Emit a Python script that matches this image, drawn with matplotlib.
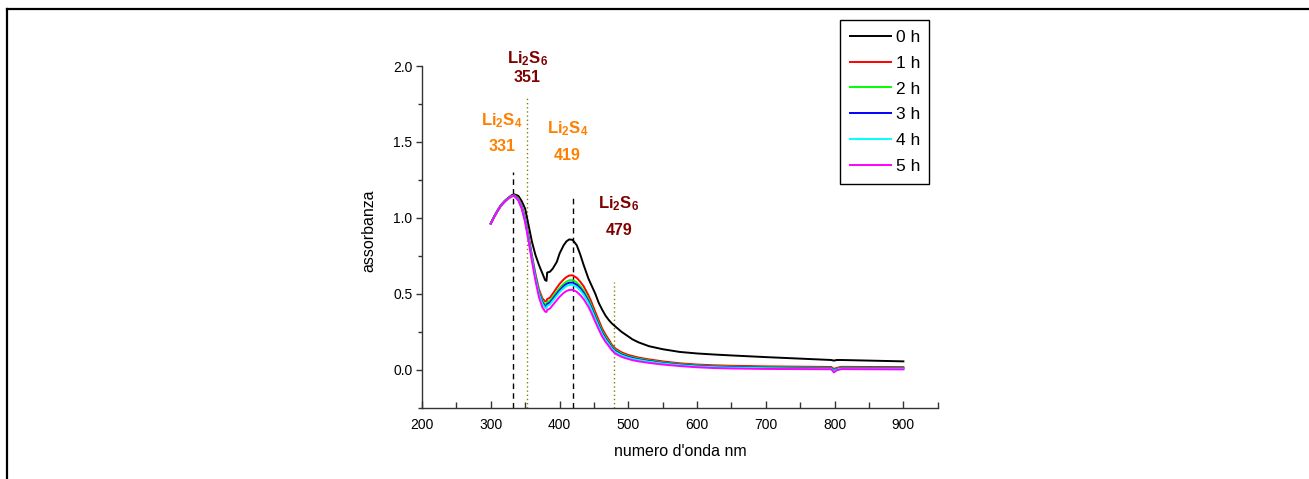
import matplotlib
matplotlib.use("Agg")
import matplotlib.pyplot as plt
from matplotlib.lines import Line2D

plt.rcParams['font.family'] = ['Liberation Sans', 'DejaVu Sans']
plt.rcParams['mathtext.fontset'] = 'custom'
plt.rcParams['mathtext.rm'] = 'Liberation Sans'
plt.rcParams['mathtext.bf'] = 'Liberation Sans:bold'
plt.rcParams['mathtext.it'] = 'Liberation Sans:italic'

# ---------------- data ----------------
wavelength = [300, 305, 310, 315, 320, 325, 330, 334, 340, 345, 350, 355, 360, 365, 370, 375,
              379, 381, 382, 386, 390, 396, 400, 406, 410, 414, 419, 425, 430, 435, 442, 446,
              452, 457, 462, 467, 472, 476, 481, 490, 498, 506, 515, 530, 550, 575, 600, 625,
              650, 700, 750, 795, 799, 803, 810, 850, 900]

abs_0h = [0.965, 1.01, 1.05, 1.085, 1.11, 1.13, 1.148, 1.155, 1.145, 1.11, 1.06, 0.95, 0.84, 0.755,
          0.69, 0.635, 0.59, 0.585, 0.64, 0.645, 0.665, 0.71, 0.765, 0.82, 0.845, 0.858, 0.855,
          0.82, 0.76, 0.69, 0.60, 0.56, 0.50, 0.44, 0.395, 0.355, 0.325, 0.305, 0.285, 0.25,
          0.225, 0.20, 0.18, 0.155, 0.135, 0.117, 0.107, 0.10, 0.094, 0.083, 0.073, 0.064,
          0.060, 0.064, 0.064, 0.060, 0.055]

abs_1h = [0.965, 1.01, 1.05, 1.085, 1.11, 1.13, 1.145, 1.15, 1.13, 1.08, 1.0, 0.88, 0.75, 0.63,
          0.53, 0.47, 0.45, 0.45, 0.465, 0.475, 0.50, 0.54, 0.565, 0.595, 0.61, 0.62, 0.622,
          0.605, 0.58, 0.55, 0.49, 0.45, 0.38, 0.325, 0.27, 0.23, 0.195, 0.165, 0.14, 0.115,
          0.10, 0.09, 0.08, 0.068, 0.055, 0.042, 0.034, 0.029, 0.026, 0.022, 0.020, 0.018,
          0.005, 0.012, 0.019, 0.018, 0.017]

abs_2h = [0.963, 1.008, 1.048, 1.083, 1.108, 1.128, 1.143, 1.148, 1.125, 1.075, 0.99, 0.87, 0.74,
          0.62, 0.515, 0.455, 0.43, 0.43, 0.445, 0.455, 0.478, 0.515, 0.538, 0.566, 0.58, 0.589,
          0.59, 0.575, 0.552, 0.522, 0.465, 0.425, 0.358, 0.305, 0.253, 0.215, 0.182, 0.154,
          0.13, 0.106, 0.092, 0.082, 0.073, 0.061, 0.048, 0.036, 0.028, 0.023, 0.020, 0.016,
          0.014, 0.012, -0.002, 0.006, 0.013, 0.012, 0.011]

abs_3h = [0.962, 1.007, 1.047, 1.082, 1.107, 1.127, 1.142, 1.147, 1.122, 1.07, 0.985, 0.862, 0.732,
          0.61, 0.505, 0.443, 0.418, 0.417, 0.432, 0.442, 0.465, 0.50, 0.523, 0.551, 0.565, 0.573,
          0.574, 0.559, 0.537, 0.507, 0.451, 0.411, 0.345, 0.293, 0.243, 0.205, 0.173, 0.146,
          0.123, 0.10, 0.087, 0.077, 0.068, 0.057, 0.044, 0.033, 0.025, 0.020, 0.017, 0.013,
          0.011, 0.009, -0.005, 0.003, 0.010, 0.009, 0.008]

abs_4h = [0.961, 1.006, 1.046, 1.081, 1.106, 1.126, 1.141, 1.146, 1.12, 1.066, 0.98, 0.855, 0.725,
          0.602, 0.497, 0.433, 0.407, 0.405, 0.42, 0.43, 0.453, 0.487, 0.51, 0.537, 0.551, 0.558,
          0.559, 0.545, 0.523, 0.494, 0.44, 0.40, 0.335, 0.283, 0.234, 0.197, 0.166, 0.14,
          0.117, 0.095, 0.082, 0.072, 0.064, 0.053, 0.041, 0.030, 0.022, 0.017, 0.014, 0.010,
          0.008, 0.007, -0.008, 0.001, 0.008, 0.007, 0.006]

abs_5h = [0.96, 1.005, 1.045, 1.08, 1.105, 1.125, 1.14, 1.145, 1.115, 1.06, 0.97, 0.845, 0.71,
          0.585, 0.478, 0.41, 0.383, 0.38, 0.393, 0.403, 0.425, 0.458, 0.48, 0.506, 0.518, 0.525,
          0.526, 0.513, 0.492, 0.465, 0.414, 0.377, 0.315, 0.265, 0.218, 0.183, 0.153, 0.128,
          0.106, 0.085, 0.073, 0.063, 0.055, 0.045, 0.034, 0.024, 0.016, 0.011, 0.008, 0.005,
          0.004, 0.003, -0.018, -0.004, 0.004, 0.003, 0.002]

series_labels = ['0 h', '1 h', '2 h', '3 h', '4 h', '5 h']
series_values = [abs_0h, abs_1h, abs_2h, abs_3h, abs_4h, abs_5h]
series_colors = ['#000000', '#FF0000', '#00FF00', '#0000FF', '#00FFFF', '#FF00FF']

# reference marker lines: (position, top, style)
marker_pos = [333, 419, 352, 479]
marker_top = [1.30, 1.15, 1.80, 0.58]
marker_style = ['dashed', 'dashed', 'dotted', 'dotted']
marker_color = ['#000000', '#000000', '#808000', '#808000']

# peak annotations
ann_species = [r'$\mathbf{Li_2S_6}$', r'$\mathbf{Li_2S_4}$', r'$\mathbf{Li_2S_4}$', r'$\mathbf{Li_2S_6}$']
ann_values = ['351', '331', '419', '479']
ann_x = [353.5, 316, 411.5, 486.3]
ann_y_species = [2.02, 1.61, 1.556, 1.063]
ann_y_value = [1.893, 1.443, 1.38, 0.888]
ann_colors = ['#800000', '#FF8000', '#FF8000', '#800000']

x_ticks = [200, 300, 400, 500, 600, 700, 800, 900]
y_ticks = [0.0, 0.5, 1.0, 1.5, 2.0]

# ---------------- figure ----------------
fig = plt.figure(figsize=(13.09, 4.79), dpi=100)
ax = fig.add_axes([0.3224, 0.1489, 0.7164 - 0.3224, 0.8622 - 0.1489])

for vals, lab, col in zip(series_values, series_labels, series_colors):
    ax.plot(wavelength, vals, color=col, lw=1.4, label=lab, zorder=3)

for p, t, s, c in zip(marker_pos, marker_top, marker_style, marker_color):
    ls = (0, (4, 3)) if s == 'dashed' else (0, (1, 2))
    ax.plot([p, p], [-0.25, t], color=c, lw=1.0, linestyle=ls, zorder=2, clip_on=False)

for sp, v, x, ys, yv, c in zip(ann_species, ann_values, ann_x, ann_y_species, ann_y_value, ann_colors):
    ax.text(x, ys, sp, color=c, fontsize=12, ha='center', va='baseline', clip_on=False)
    ax.text(x, yv, v, color=c, fontsize=11.5, fontweight='bold', ha='center', va='baseline',
            clip_on=False)

ax.set_xlim(200, 950)
ax.set_ylim(-0.25, 2.0)
ax.set_xticks(x_ticks)
ax.set_xticks([250, 350, 450, 550, 650, 750, 850, 950], minor=True)
ax.set_yticks(y_ticks)
ax.set_yticks([-0.25, 0.25, 0.75, 1.25, 1.75], minor=True)
ax.set_yticklabels(['0.0', '0.5', '1.0', '1.5', '2.0'])

for side in ['top', 'right']:
    ax.spines[side].set_visible(False)
for side in ['left', 'bottom']:
    ax.spines[side].set_linewidth(1.0)
    ax.spines[side].set_color('#333333')

ax.tick_params(axis='x', which='major', direction='in', length=5, width=1.0, pad=7.5, labelsize=10,
               color='#333333')
ax.tick_params(axis='x', which='minor', direction='in', length=4, width=1.0, color='#333333')
ax.tick_params(axis='y', which='major', direction='out', length=4, width=1.0, pad=3, labelsize=10,
               color='#333333')
ax.tick_params(axis='y', which='minor', direction='out', length=3, width=1.0, color='#333333')

ax.set_xlabel("numero d'onda nm", fontsize=11.5)
ax.set_ylabel("assorbanza", fontsize=11.5)
ax.xaxis.set_label_coords(0.501, -0.105)
ax.yaxis.set_label_coords(-0.089, 0.517)

leg = ax.legend(loc='upper left', bbox_to_anchor=(840 / 1309, 1 - 20 / 479),
                bbox_transform=fig.transFigure, fontsize=12.5, frameon=True, fancybox=False,
                edgecolor='#000000', framealpha=1, handlelength=2.4, handletextpad=0.25,
                labelspacing=0.62, borderpad=0.55, borderaxespad=0)
leg.get_frame().set_linewidth(1.0)

# outer page border (left and top edges visible)
fig.add_artist(Line2D([7 / 1309, 7 / 1309], [0, 1 - 9 / 479], transform=fig.transFigure,
                      color='black', lw=1.6))
fig.add_artist(Line2D([7 / 1309, 1], [1 - 9 / 479, 1 - 9 / 479], transform=fig.transFigure,
                      color='black', lw=1.6))

fig.savefig('out.png', dpi=100, facecolor='white')
